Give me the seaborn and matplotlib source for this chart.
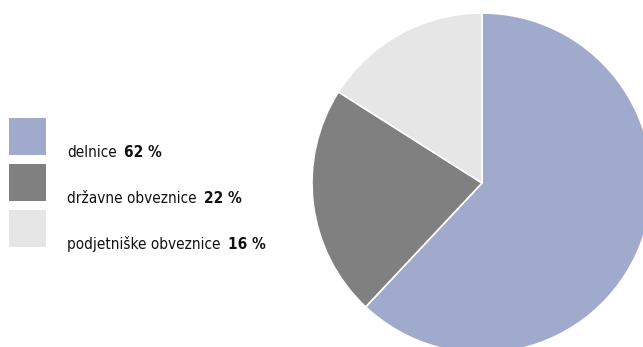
import matplotlib
matplotlib.use("Agg")
import matplotlib.pyplot as plt
from matplotlib.patches import Rectangle
import seaborn as sns

categories = ["delnice", "državne obveznice", "podjetniške obveznice"]
values = [62, 22, 16]
value_labels = ["62 %", "22 %", "16 %"]
colors = ["#A0AACC", "#808080", "#E6E6E6"]

sns.set_theme(style="white")
plt.rcParams['font.family'] = ['DejaVu Sans']

W, H = 643, 347
fig = plt.figure(figsize=(W / 100, H / 100), dpi=100)
fig.patch.set_facecolor("white")

cx, cy, r = 482, 183, 170
ax = fig.add_axes([(cx - r) / W, (H - cy - r) / H, 2 * r / W, 2 * r / H])
ax.pie(values, colors=colors, startangle=90, counterclock=False,
       wedgeprops=dict(edgecolor="white", linewidth=1.2))
ax.set_xlim(-1, 1)
ax.set_ylim(-1, 1)
ax.set_aspect("equal")
ax.axis("off")

# legend
sq_x, sq_w = 9, 37
sq_tops = [118, 164, 210]
for top, cat, val, col in zip(sq_tops, categories, value_labels, colors):
    fig.patches.append(Rectangle((sq_x / W, (H - top - sq_w) / H), sq_w / W, sq_w / H,
                                 transform=fig.transFigure, facecolor=col,
                                 edgecolor="none", figure=fig))
    base_y = top + 39
    t1 = fig.text(67 / W, (H - base_y) / H, cat, fontsize=11, fontstretch="condensed",
                  color="#111111", ha="left", va="baseline")
    ax.annotate(val, xy=(1, 0), xycoords=t1, xytext=(5.5, 0), textcoords="offset points",
                fontsize=11, fontweight="bold", fontstretch="condensed", color="#111111",
                ha="left", va="bottom", annotation_clip=False)

fig.savefig("out.png", dpi=100)
